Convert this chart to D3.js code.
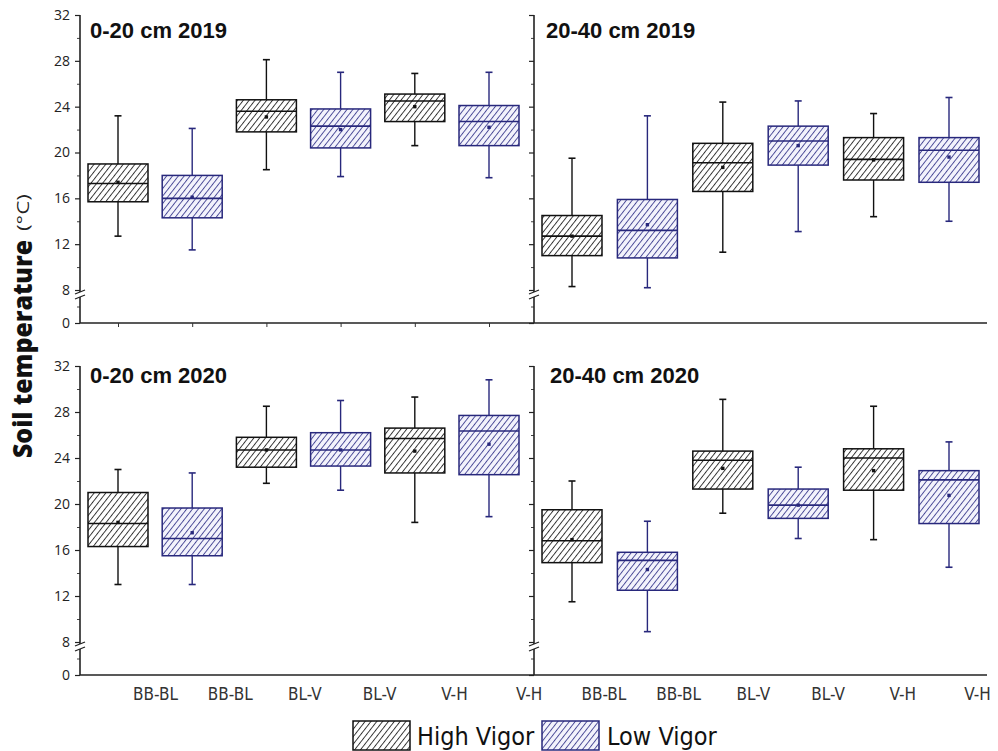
<!DOCTYPE html>
<html><head><meta charset="utf-8">
<script src="https://cdn.jsdelivr.net/npm/d3@7"></script>
<style>body{margin:0;background:#fff}svg{display:block}</style>
</head><body>
<svg id="c" width="998" height="751"></svg>
<script>
// ---------- data ----------
const stages = ["BB-BL", "BL-V", "V-H"];
const groups = ["High Vigor", "Low Vigor"];
const panelTitles = ["0-20 cm 2019", "20-40 cm 2019", "0-20 cm 2020", "20-40 cm 2020"];
const xTickLabels = ["BB-BL","BB-BL","BL-V","BL-V","V-H","V-H","BB-BL","BB-BL","BL-V","BL-V","V-H","V-H"];
const yTicks = [0, 8, 12, 16, 20, 24, 28, 32];
const yMinorTicks = [4, 10, 14, 18, 22, 26, 30];
// each stat: [whisker low, Q1, median, Q3, whisker high, mean], one per stage
const hv_0_20_2019  = [[12.7,15.7,17.3,19.0,23.2,17.4],[18.5,21.8,23.6,24.6,28.1,23.1],[20.6,22.7,24.5,25.1,26.9,24.0]];
const lv_0_20_2019  = [[11.5,14.3,16.0,18.0,22.1,16.1],[17.9,20.4,22.3,23.8,27.0,22.0],[17.8,20.6,22.7,24.1,27.0,22.2]];
const hv_20_40_2019 = [[8.3,11.0,12.7,14.5,19.5,12.7],[11.3,16.6,19.1,20.8,24.4,18.7],[14.4,17.6,19.4,21.3,23.4,19.35]];
const lv_20_40_2019 = [[8.2,10.8,13.2,15.9,23.2,13.7],[13.1,18.9,21.0,22.3,24.5,20.6],[14.0,17.4,20.2,21.3,24.8,19.6]];
const hv_0_20_2020  = [[13.0,16.3,18.3,21.0,23.0,18.4],[21.8,23.2,24.7,25.8,28.5,24.7],[18.4,22.7,25.7,26.6,29.3,24.6]];
const lv_0_20_2020  = [[13.0,15.5,17.0,19.65,22.7,17.5],[21.2,23.3,24.7,26.2,29.0,24.7],[18.9,22.55,26.35,27.7,30.8,25.2]];
const hv_20_40_2020 = [[11.5,14.9,16.8,19.5,22.0,16.9],[19.2,21.3,23.8,24.6,29.1,23.1],[16.9,21.2,24.0,24.8,28.5,22.9]];
const lv_20_40_2020 = [[8.9,12.5,15.1,15.8,18.5,14.3],[17.0,18.75,19.9,21.3,23.2,19.9],[14.5,18.3,22.1,22.9,25.4,20.75]];

// ---------- styles ----------
const HV = {stroke:"#111", hatch:"#111", fill:"#ffffff"};
const LV = {stroke:"#28287c", hatch:"#2e2e86", fill:"#f3f3fc"};

const svg = d3.select("#c");
const defs = svg.append("defs");
function hatch(id, c) {
  const p = defs.append("pattern").attr("id", id).attr("patternUnits","userSpaceOnUse")
    .attr("width", 4.6).attr("height", 10).attr("patternTransform","rotate(38)");
  p.append("rect").attr("width",4.6).attr("height",10).attr("fill", c.fill);
  p.append("line").attr("x1",0.5).attr("x2",0.5).attr("y1",0).attr("y2",10)
    .attr("stroke", c.hatch).attr("stroke-width",0.85);
}
hatch("hHV", HV); hatch("hLV", LV);

const panels = [
  {title:panelTitles[0], hv:hv_0_20_2019,  lv:lv_0_20_2019,  xr:[118,489], ax:80,  row:0, labels:true,  xt:true,  tx:90,  ty:38},
  {title:panelTitles[1], hv:hv_20_40_2019, lv:lv_20_40_2019, xr:[572,949], ax:534, row:0, labels:false, xt:false, tx:546, ty:38},
  {title:panelTitles[2], hv:hv_0_20_2020,  lv:lv_0_20_2020,  xr:[118,489], ax:80,  row:1, labels:true,  xt:false, tx:90,  ty:383},
  {title:panelTitles[3], hv:hv_20_40_2020, lv:lv_20_40_2020, xr:[572,949], ax:534, row:1, labels:false, xt:false, tx:550, ty:383}
];
const rows = [
  d3.scaleLinear().domain([0, 8, 32]).range([323, 290, 15]),
  d3.scaleLinear().domain([0, 8, 32]).range([675, 642, 366])
];
const boxW = 60, capW = 7;
const keys = [];
stages.forEach(s => groups.forEach(g => keys.push(s + "|" + g)));

// x axis baselines
rows.forEach(y => {
  svg.append("line").attr("x1",80).attr("x2",987).attr("y1",y(0)).attr("y2",y(0))
    .attr("stroke","#222").attr("stroke-width",1.6);
});

panels.forEach(p => {
  const y = rows[p.row];
  const x = d3.scalePoint().domain(keys).range(p.xr);
  const g = svg.append("g");

  // y axis ticks
  const axMajor = d3.axisLeft(y).tickValues(yTicks).tickSize(5).tickPadding(5)
    .tickFormat(p.labels ? d3.format("d") : () => "");
  const ga = g.append("g").attr("transform",`translate(${p.ax},0)`).call(axMajor);
  ga.select(".domain").remove();
  ga.selectAll(".tick line").attr("stroke","#222").attr("stroke-width",1.2);
  ga.selectAll(".tick text").attr("font-family","'Open Sans', sans-serif").attr("font-size",14).attr("fill","#222");
  const gm = g.append("g").attr("transform",`translate(${p.ax},0)`)
    .call(d3.axisLeft(y).tickValues(yMinorTicks).tickSize(3).tickFormat(() => ""));
  gm.select(".domain").remove();
  gm.selectAll(".tick line").attr("stroke","#444").attr("stroke-width",1);

  // y axis line with break
  const yb = y(8);
  g.append("line").attr("x1",p.ax).attr("x2",p.ax).attr("y1",y(32)).attr("y2",yb+2)
    .attr("stroke","#222").attr("stroke-width",1.6);
  g.append("line").attr("x1",p.ax).attr("x2",p.ax).attr("y1",yb+7).attr("y2",y(0))
    .attr("stroke","#222").attr("stroke-width",1.6);
  [yb+2, yb+7].forEach(v => g.append("line").attr("x1",p.ax-5).attr("x2",p.ax+5)
    .attr("y1",v+2).attr("y2",v-2).attr("stroke","#222").attr("stroke-width",1.3));

  // x ticks (top-left panel only)
  if (p.xt) {
    const gx = g.append("g").attr("transform",`translate(0,${y(0)})`)
      .call(d3.axisBottom(x).tickSize(4).tickFormat(() => ""));
    gx.select(".domain").remove();
    gx.selectAll(".tick line").attr("stroke","#333");
  }

  // boxes
  const data = [];
  stages.forEach((s, i) => {
    data.push({k: s+"|"+groups[0], v: p.hv[i], c: HV, pat:"url(#hHV)"});
    data.push({k: s+"|"+groups[1], v: p.lv[i], c: LV, pat:"url(#hLV)"});
  });
  const b = g.selectAll(".box").data(data).join("g");
  b.append("line").attr("x1", d => x(d.k)).attr("x2", d => x(d.k))
    .attr("y1", d => y(d.v[0])).attr("y2", d => y(d.v[4]))
    .attr("stroke", d => d.c.stroke).attr("stroke-width",1.4);
  [0,4].forEach(j => b.append("line")
    .attr("x1", d => x(d.k)-capW/2).attr("x2", d => x(d.k)+capW/2)
    .attr("y1", d => y(d.v[j])).attr("y2", d => y(d.v[j]))
    .attr("stroke", d => d.c.stroke).attr("stroke-width",1.6));
  b.append("rect").attr("x", d => x(d.k)-boxW/2).attr("width", boxW)
    .attr("y", d => y(d.v[3])).attr("height", d => y(d.v[1]) - y(d.v[3]))
    .attr("fill", d => d.pat).attr("stroke", d => d.c.stroke).attr("stroke-width",1.5);
  b.append("line").attr("x1", d => x(d.k)-boxW/2).attr("x2", d => x(d.k)+boxW/2)
    .attr("y1", d => y(d.v[2])).attr("y2", d => y(d.v[2]))
    .attr("stroke", d => d.c.stroke).attr("stroke-width",1.6);
  b.append("rect").attr("x", d => x(d.k)-1.7).attr("y", d => y(d.v[5])-1.7)
    .attr("width",3.4).attr("height",3.4).attr("fill", d => d.c.stroke);

  // title
  svg.append("text").attr("x",p.tx).attr("y",p.ty).text(p.title)
    .attr("font-family","'Liberation Sans', Arial, sans-serif").attr("font-weight","bold")
    .attr("font-size",22).attr("fill","#111");
});

// bottom category labels
const xl = d3.scalePoint().domain(d3.range(xTickLabels.length)).range([155, 977]);
const gl = svg.append("g").attr("transform","translate(0,688)")
  .call(d3.axisBottom(xl).tickSize(0).tickPadding(0).tickFormat(i => xTickLabels[i]));
gl.select(".domain").remove();
gl.selectAll("text").attr("font-family","'DejaVu Sans Condensed', 'DejaVu Sans', sans-serif")
  .attr("font-size",17).attr("fill","#333").attr("dy","0.71em");

// y title
svg.append("text").attr("transform","translate(32,458) rotate(-90)")
  .attr("font-family","'Open Sans', sans-serif").attr("font-weight",800).attr("font-size",26)
  .attr("fill","#111").attr("textLength",218).attr("lengthAdjust","spacingAndGlyphs")
  .text("Soil temperature");
svg.append("text").attr("transform","translate(29,231) rotate(-90)")
  .attr("font-family","'Open Sans', sans-serif").attr("font-size",16)
  .attr("fill","#222").attr("textLength",37).attr("lengthAdjust","spacingAndGlyphs")
  .text("(\u00B0C)");

// legend
const leg = [{name:groups[0], c:HV, pat:"url(#hHV)", x:353, tx:417}, {name:groups[1], c:LV, pat:"url(#hLV)", x:542, tx:607}];
const lg = svg.selectAll(".leg").data(leg).join("g");
lg.append("rect").attr("x", d => d.x).attr("y",721).attr("width",57).attr("height",29)
  .attr("fill", d => d.pat).attr("stroke", d => d.c.stroke).attr("stroke-width",1.5);
lg.append("text").attr("x", d => d.tx).attr("y",745).text(d => d.name)
  .attr("font-family","'DejaVu Sans Condensed', 'DejaVu Sans', sans-serif").attr("font-size",25).attr("fill","#111");
</script>
</body></html>
